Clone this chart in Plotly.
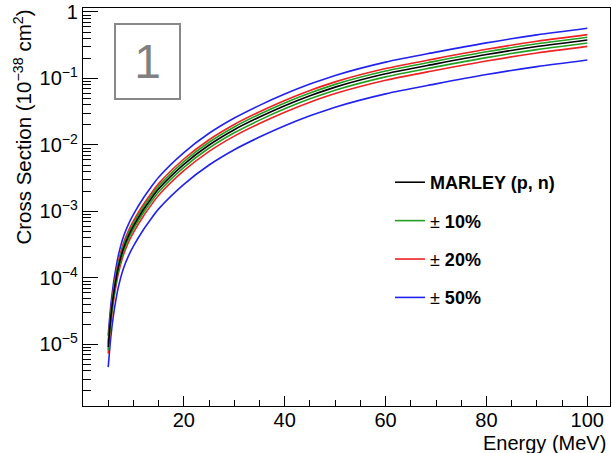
import plotly.graph_objects as go

# ---- data ----
energy = [5, 5.5, 6, 6.5, 7, 8, 9, 10, 12, 13.3, 15, 20, 25, 30, 35, 40, 45, 50,
          60, 70, 80, 90, 100]
log_xsec = [-5.04, -4.60, -4.28, -4.04, -3.84, -3.56, -3.37, -3.22, -2.97, -2.83,
            -2.66, -2.29, -2.00, -1.77, -1.58, -1.41, -1.26, -1.13,
            -0.93, -0.78, -0.64, -0.52, -0.42]
xsec = [10 ** v for v in log_xsec]          # 10^-38 cm^2

band_fractions = [0.10, 0.20, 0.50]
band_names = ["± <b>10%</b>", "± <b>20%</b>", "± <b>50%</b>"]
band_colors = ["#22a022", "#ee2222", "#2222ee"]

ytick_vals = [1e-5, 1e-4, 1e-3, 1e-2, 1e-1, 1]
ytick_text = ["10<sup>−5</sup>", "10<sup>−4</sup>", "10<sup>−3</sup>",
              "10<sup>−2</sup>", "10<sup>−1</sup>", "1"]
xtick_vals = [20, 40, 60, 80, 100]

FONT = "Liberation Sans, Arial, Helvetica, sans-serif"

fig = go.Figure()

# draw widest band first so the central curve ends on top
order = [2, 1, 0]
for i in order:
    f = band_fractions[i]
    for k, sgn in enumerate([1, -1]):
        fig.add_trace(go.Scatter(
            x=energy, y=[v * (1 + sgn * f) for v in xsec],
            mode="lines", line=dict(color=band_colors[i], width=1.6, shape="spline", smoothing=0.8),
            name=band_names[i], legendgroup=f"g{i}", showlegend=(k == 0),
            legendrank=i + 2, hoverinfo="skip",
        ))

fig.add_trace(go.Scatter(
    x=energy, y=xsec, mode="lines",
    line=dict(color="black", width=1.6, shape="spline", smoothing=0.8),
    name="<b>MARLEY (p, n)</b>", legendgroup="g_c", legendrank=1, hoverinfo="skip",
))

fig.update_layout(
    width=612, height=453,
    margin=dict(l=83, r=2, t=8, b=47),
    paper_bgcolor="white", plot_bgcolor="white",
    font=dict(family=FONT, size=20, color="black"),
    showlegend=True,
    legend=dict(
        x=0.5825, y=0.608, xanchor="left", yanchor="top",
        bgcolor="rgba(0,0,0,0)", borderwidth=0,
        font=dict(family=FONT, size=18, color="black"),
        tracegroupgap=12, traceorder="grouped", itemwidth=30,
    ),
    xaxis=dict(
        range=[0, 104.5], tickvals=xtick_vals, ticks="inside", ticklen=10,
        tickwidth=1, tickcolor="black", showline=True, linecolor="black",
        linewidth=1.2, mirror=True, showgrid=False, zeroline=False,
        tickfont=dict(size=20), automargin=False, ticklabelstandoff=-4,
        minor=dict(dtick=5, tick0=0, ticks="inside", ticklen=6, tickcolor="black", showgrid=False),
    ),
    yaxis=dict(
        type="log", range=[-5.925, 0.06], tickvals=ytick_vals, ticktext=ytick_text,
        ticks="inside", ticklen=15, tickwidth=1, tickcolor="black",
        showline=True, linecolor="black", linewidth=1.2, mirror=True,
        showgrid=False, zeroline=False, tickfont=dict(size=20), automargin=False,
        minor=dict(dtick="D1", ticks="inside", ticklen=8, tickcolor="black", showgrid=False),
    ),
    annotations=[
        dict(text="Cross Section (10<sup>−38</sup> cm<sup>2</sup>)", textangle=-90,
             xref="paper", yref="paper", x=-0.1157, y=0.6997,
             xanchor="center", yanchor="middle", showarrow=False,
             font=dict(family=FONT, size=20.5)),
        dict(text="Energy (MeV)", xref="paper", yref="paper", x=0.9962, y=-0.094,
             xanchor="right", yanchor="middle", showarrow=False,
             font=dict(family=FONT, size=20)),
        dict(text="1", xref="paper", yref="paper", x=0.1224, y=0.8656,
             xanchor="center", yanchor="middle", showarrow=False,
             width=63, height=73, borderwidth=2, borderpad=0, bordercolor="#888888",
             bgcolor="white", font=dict(family=FONT, size=48, color="#808080")),
    ],
)

# remove the browser's default 8px body margin so the figure sits at the page origin
fig.write_html("out.html", config={"displayModeBar": False, "staticPlot": True},
               post_script="document.body.style.margin='0';")
